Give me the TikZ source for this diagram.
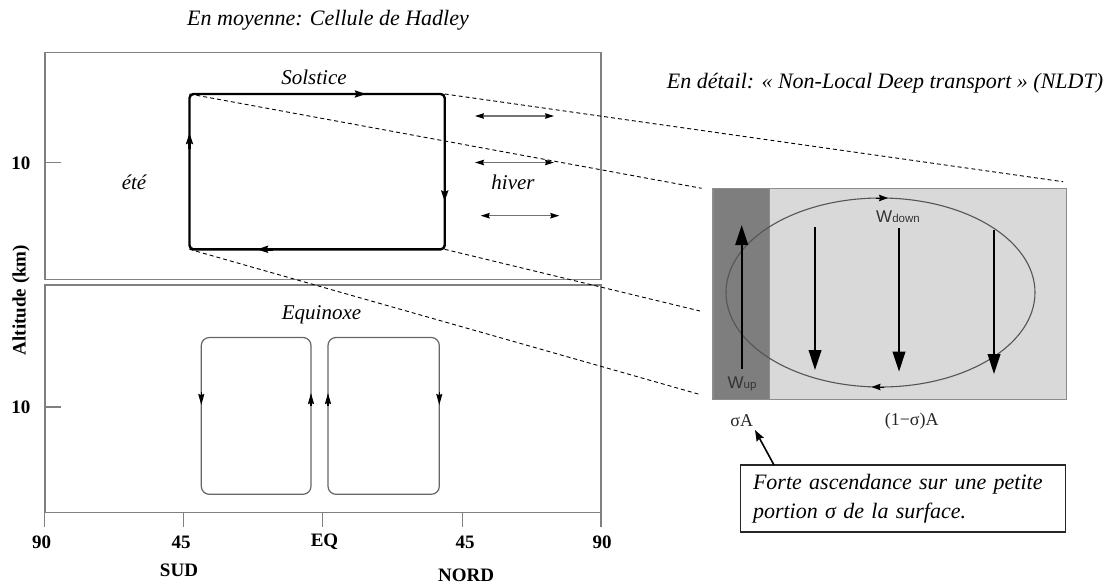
\documentclass[tikz,border=0pt]{standalone}
\usepackage{fontspec}
\setmainfont{Liberation Serif}
\newfontfamily\wsans{Liberation Sans}
\usetikzlibrary{arrows.meta}
\definecolor{framegray}{HTML}{808080}
\definecolor{panellight}{HTML}{D9D9D9}
\definecolor{paneldark}{HTML}{7E7E7E}
\definecolor{paneledge}{HTML}{8C8C8C}
\definecolor{ellgray}{HTML}{555555}
\begin{document}
\begin{tikzpicture}[x=1pt,y=-1pt,
  frame/.style={draw=framegray,line width=1.5pt},
  tickmark/.style={draw=framegray,line width=1.3pt},
  ax/.style={font=\fontsize{19}{19}\selectfont\bfseries,inner sep=0},
  lab/.style={font=\fontsize{21}{21}\selectfont\itshape,inner sep=0},
  ttl/.style={font=\fontsize{22}{22}\selectfont\itshape,inner sep=0},
  cellthick/.style={draw=black,line width=2.4pt,rounded corners=4pt},
  cellthin/.style={draw=black!60,line width=1.2pt,rounded corners=8pt},
  headthick/.style={draw=black,line width=2.4pt,-{Stealth[length=11pt,width=7pt,inset=1.5pt]}},
  headthin/.style={draw=black,line width=1.1pt,-{Stealth[length=11pt,width=6pt,inset=1pt]}},
  zoomline/.style={draw=black,dash pattern=on 4pt off 3pt,line width=0.9pt},
  dbl/.style={draw=black!55,line width=1.1pt,{Stealth[length=9pt,width=5.5pt,inset=1pt,black]}-{Stealth[length=9pt,width=5.5pt,inset=1pt,black]}},
  bigarrow/.style={draw=black,line width=2.3pt,-{Triangle[length=20pt,width=12.5pt]}},
  ellhead/.style={draw=black,line width=1pt,-{Stealth[length=9pt,width=6.5pt,inset=1pt]}},
  wlab/.style={inner sep=0,text=black!80},
  sig/.style={font=\fontsize{18}{18}\selectfont,inner sep=0,text=black!85}
]
\useasboundingbox (0,0) rectangle (1112,584);
\fill[white] (0,0) rectangle (1112,584);

% ---------- titles
\node[ttl] (t1) at (328,20.7) {En moyenne: Cellule de Hadley};
\node[ttl] (t2) at (885,83.3) {En détail: « Non-Local Deep transport » (NLDT)};

% ---------- left frames
\draw[frame] (44.8,52.7) rectangle (601,279.3);
\draw[frame] (44.8,285) rectangle (601,512.3);
\foreach \xx in {44.8,183.7,322.6,462.3,601}{
  \draw[tickmark] (\xx,512.3) -- (\xx,527);
}
\draw[tickmark] (44.8,162.7) -- (61,162.7);
\draw[tickmark] (44.8,407) -- (61,407);

% axis labels
\node[ax] (y1) at (21,163) {10};
\node[ax] (y2) at (21,407.5) {10};
\node[ax] (x1) at (41.5,542) {90};
\node[ax] (x2) at (181,542) {45};
\node[ax] (x3) at (324.5,542) {EQ};
\node[ax] (x4) at (465,542) {45};
\node[ax] (x5) at (602,542) {90};
\node[ax] (sud) at (179,570.5) {SUD};
\node[ax] (nord) at (466,575) {NORD};
\node[ax,rotate=90] (alt) at (21,300) {Altitude (km)};

% ---------- solstice cell
\coordinate (sTL) at (189.5,94);
\coordinate (sTR) at (444.7,94);
\coordinate (sBR) at (444.7,249.3);
\coordinate (sBL) at (189.5,249.3);
\draw[cellthick] (sTL) -- (sTR) -- (sBR) -- (sBL) -- cycle;
\draw[headthick] (350,94) -- (366,94);
\draw[headthick] (444.7,185) -- (444.7,201.5);
\draw[headthick] (273,249.3) -- (257,249.3);
\draw[headthick] (189.5,149) -- (189.5,133);

\node[lab] (sol) at (314,77) {Solstice};
\node[lab] (ete) at (134,182) {été};
\node[lab] (hiv) at (513,182) {hiver};

% double arrows
\coordinate (d1a) at (475,116); \coordinate (d1b) at (554,116);
\coordinate (d2a) at (475,162.5); \coordinate (d2b) at (554,162.5);
\coordinate (d3a) at (480.7,215.7); \coordinate (d3b) at (559.3,215.7);
\draw[dbl] (d1a) -- (d1b);
\draw[dbl] (d2a) -- (d2b);
\draw[dbl] (d3a) -- (d3b);

% ---------- equinox cells
\node[lab] (equ) at (321.5,315) {Equinoxe};
\draw[cellthin] (201.3,337.5) rectangle (311,494.3);
\draw[cellthin] (328,337.5) rectangle (439.3,494.3);
\draw[headthin] (201.3,392) -- (201.3,405);
\draw[headthin] (311,406) -- (311,393);
\draw[headthin] (328,406) -- (328,393);
\draw[headthin] (439.3,392) -- (439.3,405);

% ---------- right panel
\coordinate (pTL) at (713,188.7);
\coordinate (pBR) at (1066.7,399.7);
\fill[panellight] (pTL) rectangle (pBR);
\fill[paneldark] (713,188.7) rectangle (769.3,399.7);
\draw[paneledge,line width=1.2pt] (pTL) rectangle (pBR);
\draw[paneledge,line width=0.8pt] (769.3,188.7) -- (769.3,399.7);

% dashed zoom lines
\coordinate (e1) at (701.7,188.3);
\coordinate (e2) at (1063,181.7);
\coordinate (e3) at (700,394.5);
\coordinate (e4) at (700,311);
\draw[zoomline] (sTL) -- (e1);
\draw[zoomline] (sTR) -- (e2);
\draw[zoomline] (sBL) -- (e3);
\draw[zoomline] (sBR) -- (e4);

% ellipse
\draw[ellgray,line width=1.1pt] (880.5,292.5) ellipse [x radius=154.5pt, y radius=94.5pt];
\draw[ellhead] (876,198) -- (888,198);
\draw[ellhead] (884,387) -- (871.5,387);

% vertical arrows
\draw[bigarrow] (741.7,369.3) -- (741.7,225);
\draw[bigarrow] (815,226.7) -- (815,370);
\draw[bigarrow] (899,228.3) -- (899,371.7);
\draw[bigarrow] (994,230) -- (994,374);

\node[wlab,anchor=base] (wdown) at (898,222.7) {\wsans\fontsize{17}{17}\selectfont W\fontsize{11.5}{11.5}\selectfont down};
\node[wlab,anchor=base] (wup) at (742,388) {\wsans\fontsize{17}{17}\selectfont W\fontsize{11.5}{11.5}\selectfont up};

\node[sig] (sigA) at (741.7,421) {σA};
\node[sig] (restA) at (911.7,421) {(1−σ)A};

% ---------- callout
\node[draw=black!85,line width=1.8pt,fill=white,minimum width=325pt,minimum height=67pt,
      text width=300pt,align=left,inner sep=0,font=\fontsize{22}{29}\selectfont\itshape]
      (call) at (903,498.5) {Forte ascendance sur une petite\\portion σ de la surface.};
\coordinate (cfoot) at (774,465);
\coordinate (ctip) at (755,430);
\draw[black,line width=1.6pt,-{Stealth[length=11pt,width=8pt,inset=1.5pt]}] (cfoot) -- (ctip);
\end{tikzpicture}
\end{document}
